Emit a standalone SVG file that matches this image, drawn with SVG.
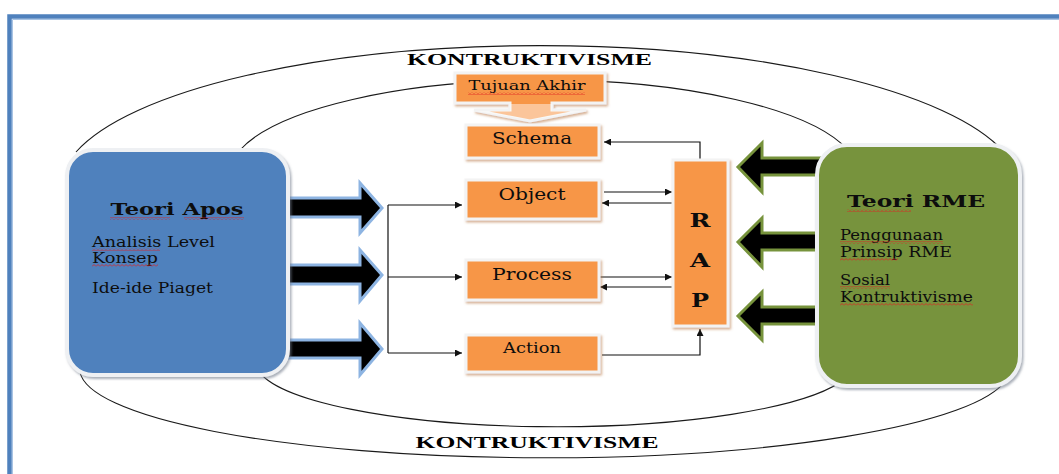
<svg xmlns="http://www.w3.org/2000/svg" width="1059" height="474" viewBox="0 0 1059 474">
  <style>
    .txt { font-family: 'DejaVu Serif', 'Liberation Serif', serif; fill: #0d0d0d; }
    .title { font-family: 'Liberation Serif', 'Times New Roman', serif; font-weight: bold; font-size: 17px; fill: #000; }
    .head { font-weight: bold; font-size: 17px; }
    .body { font-size: 14px; }
    .obox { fill: #F79646; stroke: #f3f3f3; stroke-width: 3; filter: url(#oshadow); }
    .big { stroke: #eef0f3; stroke-width: 4; filter: url(#bshadow); }
    .arc { fill: none; stroke: #1a1a1a; stroke-width: 1.1; }
    .con { fill: none; stroke: #111; stroke-width: 1.2; }
    .barrow { fill: #000; stroke: #8DB4E2; stroke-width: 3; stroke-linejoin: miter; }
    .garrow { fill: #000; stroke: #77933C; stroke-width: 3; stroke-linejoin: miter; }
    .sq { fill: url(#squiggle); }
  </style>
  <defs>
    <filter id="oshadow" x="-20%" y="-20%" width="140%" height="150%">
      <feDropShadow dx="1.5" dy="2" stdDeviation="0.8" flood-color="#b5723c" flood-opacity="0.55"/>
    </filter>
    <filter id="bshadow" x="-10%" y="-10%" width="120%" height="120%">
      <feDropShadow dx="1.5" dy="2" stdDeviation="1.2" flood-color="#6f7a8a" flood-opacity="0.6"/>
    </filter>
    <marker id="ah" viewBox="0 0 10 10" refX="10" refY="5" markerWidth="8" markerHeight="7" markerUnits="userSpaceOnUse" orient="auto">
      <path d="M0,0 L10,5 L0,10 Z" fill="#111"/>
    </marker>
    <pattern id="squiggle" width="4" height="3" patternUnits="userSpaceOnUse">
      <path d="M0,2.5 L2,0.5 L4,2.5" fill="none" stroke="#e02020" stroke-width="0.8"/>
    </pattern>
  </defs>

  <!-- page frame -->
  <rect x="9.5" y="16.5" width="1100" height="500" fill="none" stroke="#4F81BD" stroke-width="4.5"/>
  <path d="M12.5,480 V19.5 H1059" fill="none" stroke="#a9c4e4" stroke-width="1"/>

  <!-- constructivism rings -->
  <g id="rings">
    <path class="arc" d="M76,152 A480 143 0 0 1 1004,152"/>
    <path class="arc" d="M80,372 A465 89 0 0 0 1006,380"/>
    <path class="arc" d="M240,150 A315 95 0 0 1 848,150"/>
    <path class="arc" d="M258,370 A300 65 0 0 0 846,378"/>
  </g>

  <text class="title" x="529.5" y="65" text-anchor="middle" textLength="245" lengthAdjust="spacingAndGlyphs">KONTRUKTIVISME</text>
  <text class="title" x="537" y="448" text-anchor="middle" textLength="243" lengthAdjust="spacingAndGlyphs">KONTRUKTIVISME</text>

  <!-- block arrows -->
  <g id="apos-arrows">
    <polygon class="barrow" points="280,198 360,198 360,183 382,208 360,233 360,217 280,217"/>
    <polygon class="barrow" points="280,265 360,265 360,250 382,275 360,301 360,284 280,284"/>
    <polygon class="barrow" points="280,340 360,340 360,323 382,349 360,375 360,358 280,358"/>
  </g>
  <g id="rme-arrows">
    <polygon class="garrow" points="822,158 762,158 762,143 738,167 762,192 762,175 822,175"/>
    <polygon class="garrow" points="822,233 762,233 762,218 738,242 762,267 762,250 822,250"/>
    <polygon class="garrow" points="822,307 762,307 762,292 738,316 762,340 762,324 822,324"/>
  </g>

  <!-- connectors -->
  <g id="connectors">
    <path class="con" d="M388,205 V353"/>
    <path class="con" d="M388,205 H462" marker-end="url(#ah)"/>
    <path class="con" d="M388,277 H462" marker-end="url(#ah)"/>
    <path class="con" d="M388,353 H462" marker-end="url(#ah)"/>
    <path class="con" d="M700,160 V142 H604" marker-end="url(#ah)"/>
    <path class="con" d="M604,192 H672" marker-end="url(#ah)"/>
    <path class="con" d="M672,203 H602" marker-end="url(#ah)"/>
    <path class="con" d="M600,277 H672" marker-end="url(#ah)"/>
    <path class="con" d="M672,287 H600" marker-end="url(#ah)"/>
    <path class="con" d="M602,355 H700 V329" marker-end="url(#ah)"/>
  </g>

  <!-- left theory box -->
  <g id="teori-apos">
    <rect class="big" x="67" y="150" width="221" height="225" rx="26" fill="#4F81BD"/>
    <text class="txt head" x="177" y="215" text-anchor="middle" textLength="133" lengthAdjust="spacingAndGlyphs">Teori  Apos</text>
    <text class="txt body" x="92" y="247" textLength="123" lengthAdjust="spacingAndGlyphs">Analisis Level</text>
    <text class="txt body" x="92" y="263" textLength="66" lengthAdjust="spacingAndGlyphs">Konsep</text>
    <text class="txt body" x="92" y="293" textLength="121" lengthAdjust="spacingAndGlyphs">Ide-ide Piaget</text>
    <rect class="sq" x="110" y="217" width="60" height="3"/>
    <rect class="sq" x="184" y="217" width="60" height="3"/>
    <rect class="sq" x="92" y="248" width="68" height="3"/>
    <rect class="sq" x="92" y="264" width="66" height="3"/>
  </g>

  <!-- right theory box -->
  <g id="teori-rme">
    <rect class="big" x="817" y="145" width="203" height="241" rx="30" fill="#77933C"/>
    <text class="txt head" x="916" y="207" text-anchor="middle" textLength="138" lengthAdjust="spacingAndGlyphs">Teori RME</text>
    <text class="txt body" x="840" y="240" textLength="103" lengthAdjust="spacingAndGlyphs">Penggunaan</text>
    <text class="txt body" x="840" y="257" textLength="112" lengthAdjust="spacingAndGlyphs">Prinsip RME</text>
    <text class="txt body" x="840" y="285" textLength="50" lengthAdjust="spacingAndGlyphs">Sosial</text>
    <text class="txt body" x="840" y="302" textLength="133" lengthAdjust="spacingAndGlyphs">Kontruktivisme</text>
    <rect class="sq" x="847" y="209" width="64" height="3"/>
    <rect class="sq" x="840" y="241" width="103" height="3"/>
    <rect class="sq" x="840" y="258" width="58" height="3"/>
    <rect class="sq" x="840" y="286" width="50" height="3"/>
    <rect class="sq" x="840" y="303" width="133" height="3"/>
  </g>

  <!-- goal callout -->
  <g id="tujuan-akhir">
    <path class="obox" d="M455,73 H605 V103 H552 V110 H586 L530,121 L474,110 H510 V103 H455 Z"/>
    <polygon points="476,111 510,111 510,104 552,104 552,111 584,111 530,120" fill="#fff" opacity="0.45"/>
    <text class="txt" x="527" y="90" font-size="13" text-anchor="middle" textLength="117" lengthAdjust="spacingAndGlyphs">Tujuan Akhir</text>
    <rect class="sq" x="468" y="92" width="117" height="3"/>
  </g>

  <g id="schema">
    <rect class="obox" x="466" y="125" width="133" height="33"/>
    <text class="txt" x="532" y="144" font-size="16" text-anchor="middle" textLength="80" lengthAdjust="spacingAndGlyphs">Schema</text>
  </g>
  <g id="object">
    <rect class="obox" x="466" y="180" width="133" height="39"/>
    <text class="txt" x="532" y="200" font-size="16" text-anchor="middle" textLength="67" lengthAdjust="spacingAndGlyphs">Object</text>
  </g>
  <g id="process">
    <rect class="obox" x="466" y="260" width="133" height="40"/>
    <text class="txt" x="532" y="280" font-size="16" text-anchor="middle" textLength="80" lengthAdjust="spacingAndGlyphs">Process</text>
  </g>
  <g id="action">
    <rect class="obox" x="466" y="335" width="133" height="37"/>
    <text class="txt" x="532" y="353" font-size="14.5" text-anchor="middle" textLength="58" lengthAdjust="spacingAndGlyphs">Action</text>
  </g>

  <g id="rap">
    <rect class="obox" x="673" y="160" width="55" height="166"/>
    <text class="txt" x="700" y="227" font-size="18" font-weight="bold" text-anchor="middle" textLength="21" lengthAdjust="spacingAndGlyphs">R</text>
    <text class="txt" x="700" y="267" font-size="18" font-weight="bold" text-anchor="middle" textLength="20" lengthAdjust="spacingAndGlyphs">A</text>
    <text class="txt" x="700" y="307" font-size="18" font-weight="bold" text-anchor="middle" textLength="18" lengthAdjust="spacingAndGlyphs">P</text>
  </g>
</svg>
